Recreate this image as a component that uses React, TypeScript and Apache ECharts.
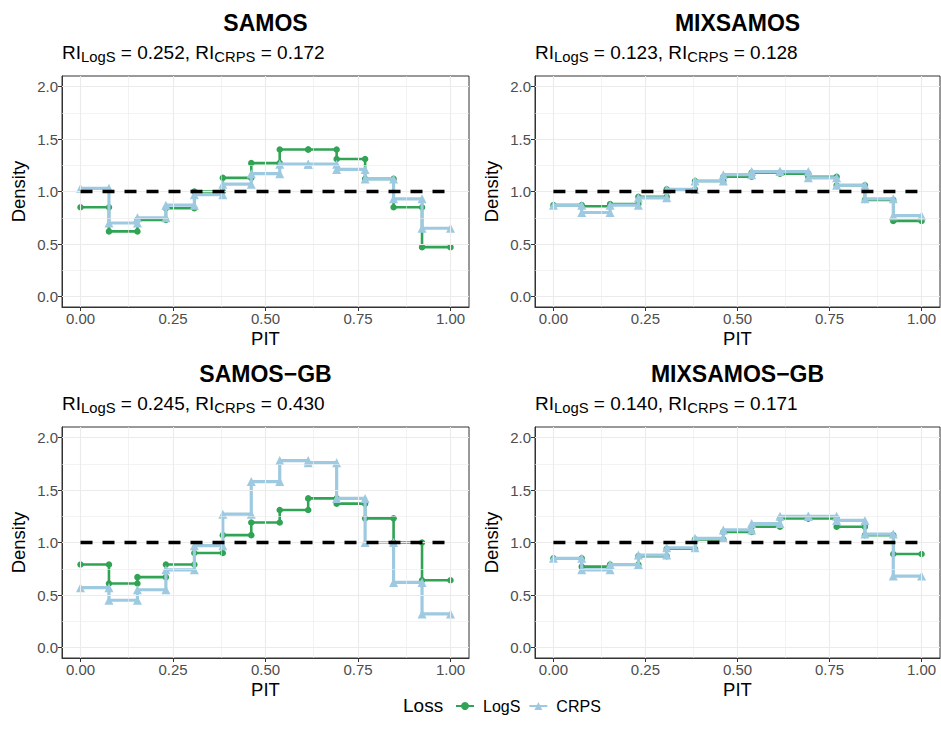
import React, { useEffect, useRef } from 'react';
import * as echarts from 'echarts';

const PANEL_TITLES = ['SAMOS', 'MIXSAMOS', 'SAMOS\u2212GB', 'MIXSAMOS\u2212GB'];
const RI_LOGS = ['0.252', '0.123', '0.245', '0.140'];
const RI_CRPS = ['0.172', '0.128', '0.430', '0.171'];
const N_BINS = 13;

const LOGS_SAMOS = [0.85, 0.62, 0.73, 0.84, 1.0, 1.13, 1.27, 1.4, 1.4, 1.31, 1.12, 0.85, 0.47];
const CRPS_SAMOS = [1.03, 0.7, 0.75, 0.87, 0.97, 1.07, 1.17, 1.26, 1.26, 1.21, 1.12, 0.93, 0.65];
const LOGS_MIXSAMOS = [0.87, 0.86, 0.88, 0.95, 1.02, 1.1, 1.14, 1.18, 1.17, 1.14, 1.06, 0.92, 0.72];
const CRPS_MIXSAMOS = [0.87, 0.8, 0.87, 0.94, 1.02, 1.1, 1.16, 1.19, 1.19, 1.13, 1.06, 0.93, 0.77];
const LOGS_SAMOS_GB = [0.79, 0.61, 0.67, 0.79, 0.9, 1.07, 1.19, 1.31, 1.42, 1.37, 1.23, 1.0, 0.64];
const CRPS_SAMOS_GB = [0.57, 0.45, 0.55, 0.74, 0.97, 1.27, 1.58, 1.78, 1.76, 1.42, 1.0, 0.62, 0.32];
const LOGS_MIXSAMOS_GB = [0.85, 0.77, 0.79, 0.87, 0.94, 1.03, 1.1, 1.15, 1.23, 1.23, 1.15, 1.07, 0.89];
const CRPS_MIXSAMOS_GB = [0.85, 0.74, 0.79, 0.88, 0.95, 1.04, 1.12, 1.18, 1.25, 1.25, 1.21, 1.08, 0.68];

const LOGS_ALL = [LOGS_SAMOS, LOGS_MIXSAMOS, LOGS_SAMOS_GB, LOGS_MIXSAMOS_GB];
const CRPS_ALL = [CRPS_SAMOS, CRPS_MIXSAMOS, CRPS_SAMOS_GB, CRPS_MIXSAMOS_GB];

const X_TICKS = [0, 0.25, 0.5, 0.75, 1];
const Y_TICKS = [0, 0.5, 1, 1.5, 2];
const X_MINOR = [0.125, 0.375, 0.625, 0.875];
const Y_MINOR = [0.25, 0.75, 1.25, 1.75];
const REF_LINE = [[0, 1], [1, 1]];

const GREEN = '#31A354';
const BLUE = '#9ECAE1';
const FONT = 'Liberation Sans, Arial, Helvetica, sans-serif';

const GRIDS = [
  { left: 62, top: 76, width: 407, height: 231 },
  { left: 535, top: 76, width: 405, height: 231 },
  { left: 62, top: 427, width: 407, height: 231 },
  { left: 535, top: 427, width: 405, height: 231 },
];

function steps(vals: number[]) {
  const pts: number[][] = [];
  vals.forEach((v, i) => {
    pts.push([i / N_BINS, v]);
    pts.push([(i + 1) / N_BINS, v]);
  });
  return pts;
}

function buildOption() {
  const grid: any[] = [];
  const xAxis: any[] = [];
  const yAxis: any[] = [];
  const series: any[] = [];
  const title: any[] = [];

  GRIDS.forEach((g, i) => {
    grid.push({ ...g, show: true, borderColor: '#333333', borderWidth: 1, backgroundColor: '#FFFFFF', containLabel: false });
    xAxis.push({
      type: 'value', gridIndex: i, min: -0.05, max: 1.05,
      splitLine: { show: false },
      axisLine: { show: true, onZero: false, lineStyle: { color: '#333333', width: 1 } },
      axisTick: { show: true, customValues: X_TICKS, length: 4, lineStyle: { color: '#333333', width: 1 } },
      axisLabel: { customValues: X_TICKS, formatter: (v: number) => v.toFixed(2), color: '#4D4D4D', fontSize: 15, margin: 4, fontFamily: FONT },
      name: 'PIT', nameLocation: 'middle', nameGap: 22,
      nameTextStyle: { fontSize: 18.5, color: '#000000', fontFamily: FONT },
    });
    yAxis.push({
      type: 'value', gridIndex: i, min: -0.1, max: 2.1,
      splitLine: { show: false },
      axisLine: { show: true, onZero: false, lineStyle: { color: '#333333', width: 1 } },
      axisTick: { show: true, customValues: Y_TICKS, length: 4, lineStyle: { color: '#333333', width: 1 } },
      axisLabel: { customValues: Y_TICKS, formatter: (v: number) => v.toFixed(1), color: '#4D4D4D', fontSize: 15, margin: 4, fontFamily: FONT },
      name: 'Density', nameLocation: 'middle', nameGap: 34,
      nameTextStyle: { fontSize: 18.5, color: '#000000', fontFamily: FONT },
    });

    const gridLines: any[] = [];
    X_TICKS.forEach((v) => gridLines.push({ xAxis: v, lineStyle: { color: '#EBEBEB', width: 1.1, type: 'solid' } }));
    X_MINOR.forEach((v) => gridLines.push({ xAxis: v, lineStyle: { color: '#EBEBEB', width: 0.6, type: 'solid' } }));
    Y_TICKS.forEach((v) => gridLines.push({ yAxis: v, lineStyle: { color: '#EBEBEB', width: 1.1, type: 'solid' } }));
    Y_MINOR.forEach((v) => gridLines.push({ yAxis: v, lineStyle: { color: '#EBEBEB', width: 0.6, type: 'solid' } }));

    series.push({
      type: 'line', name: 'grid' + i, xAxisIndex: i, yAxisIndex: i, data: [], z: 1, silent: true,
      markLine: { silent: true, symbol: ['none', 'none'], label: { show: false }, animation: false, data: gridLines },
    });
    series.push({
      type: 'line', name: 'LogS', xAxisIndex: i, yAxisIndex: i, data: steps(LOGS_ALL[i]), z: 3,
      symbol: 'circle', symbolSize: 6.5, showAllSymbol: true,
      lineStyle: { color: GREEN, width: 2.6 }, itemStyle: { color: GREEN },
    });
    series.push({
      type: 'line', name: 'CRPS', xAxisIndex: i, yAxisIndex: i, data: steps(CRPS_ALL[i]), z: 4,
      symbol: 'triangle', symbolSize: 9, showAllSymbol: true,
      lineStyle: { color: BLUE, width: 3.2 }, itemStyle: { color: BLUE },
    });
    series.push({
      type: 'line', name: 'ref' + i, xAxisIndex: i, yAxisIndex: i, data: REF_LINE, z: 5, silent: true,
      symbol: 'none', lineStyle: { color: '#000000', width: 3.5, type: [12, 10] },
    });

    const cx = g.left + g.width / 2;
    title.push({
      text: PANEL_TITLES[i], left: cx, top: g.top - 65, textAlign: 'center', padding: 0,
      textStyle: { fontSize: 23, fontWeight: 'bold', color: '#000000', fontFamily: FONT },
    });
    title.push({
      text: `{a|RI}{b|LogS}{a| = ${RI_LOGS[i]}, RI}{b|CRPS}{a| = ${RI_CRPS[i]}}`,
      left: g.left, top: g.top - 36, padding: 0,
      textStyle: {
        fontFamily: FONT, fontWeight: 'normal',
        rich: {
          a: { fontSize: 19, color: '#000000', lineHeight: 24, fontFamily: FONT, fontWeight: 'normal' },
          b: { fontSize: 14.8, color: '#000000', lineHeight: 14, verticalAlign: 'bottom', fontFamily: FONT, fontWeight: 'normal' },
        },
      },
    });
  });

  return {
    animation: false,
    backgroundColor: '#FFFFFF',
    textStyle: { fontFamily: FONT },
    title,
    grid,
    xAxis,
    yAxis,
    series,
    legend: {
      data: ['LogS', 'CRPS'],
      left: 455, top: 698, padding: 0,
      itemWidth: 18, itemHeight: 10, itemGap: 8,
      textStyle: { fontSize: 16, color: '#000000', fontFamily: FONT, padding: [0, 0, 0, 4] },
    },
    graphic: [
      {
        type: 'text', left: 403, top: 696,
        style: { text: 'Loss', fontSize: 19, fill: '#000000', fontFamily: FONT },
      },
    ],
  };
}

export default function App() {
  const ref = useRef<HTMLDivElement>(null);
  useEffect(() => {
    if (!ref.current) return;
    const chart = echarts.init(ref.current, undefined, { renderer: 'svg' });
    chart.setOption(buildOption() as any);
    return () => chart.dispose();
  }, []);
  return <div ref={ref} style={{ position: 'absolute', left: 0, top: 0, width: 941, height: 745 }} />;
}
